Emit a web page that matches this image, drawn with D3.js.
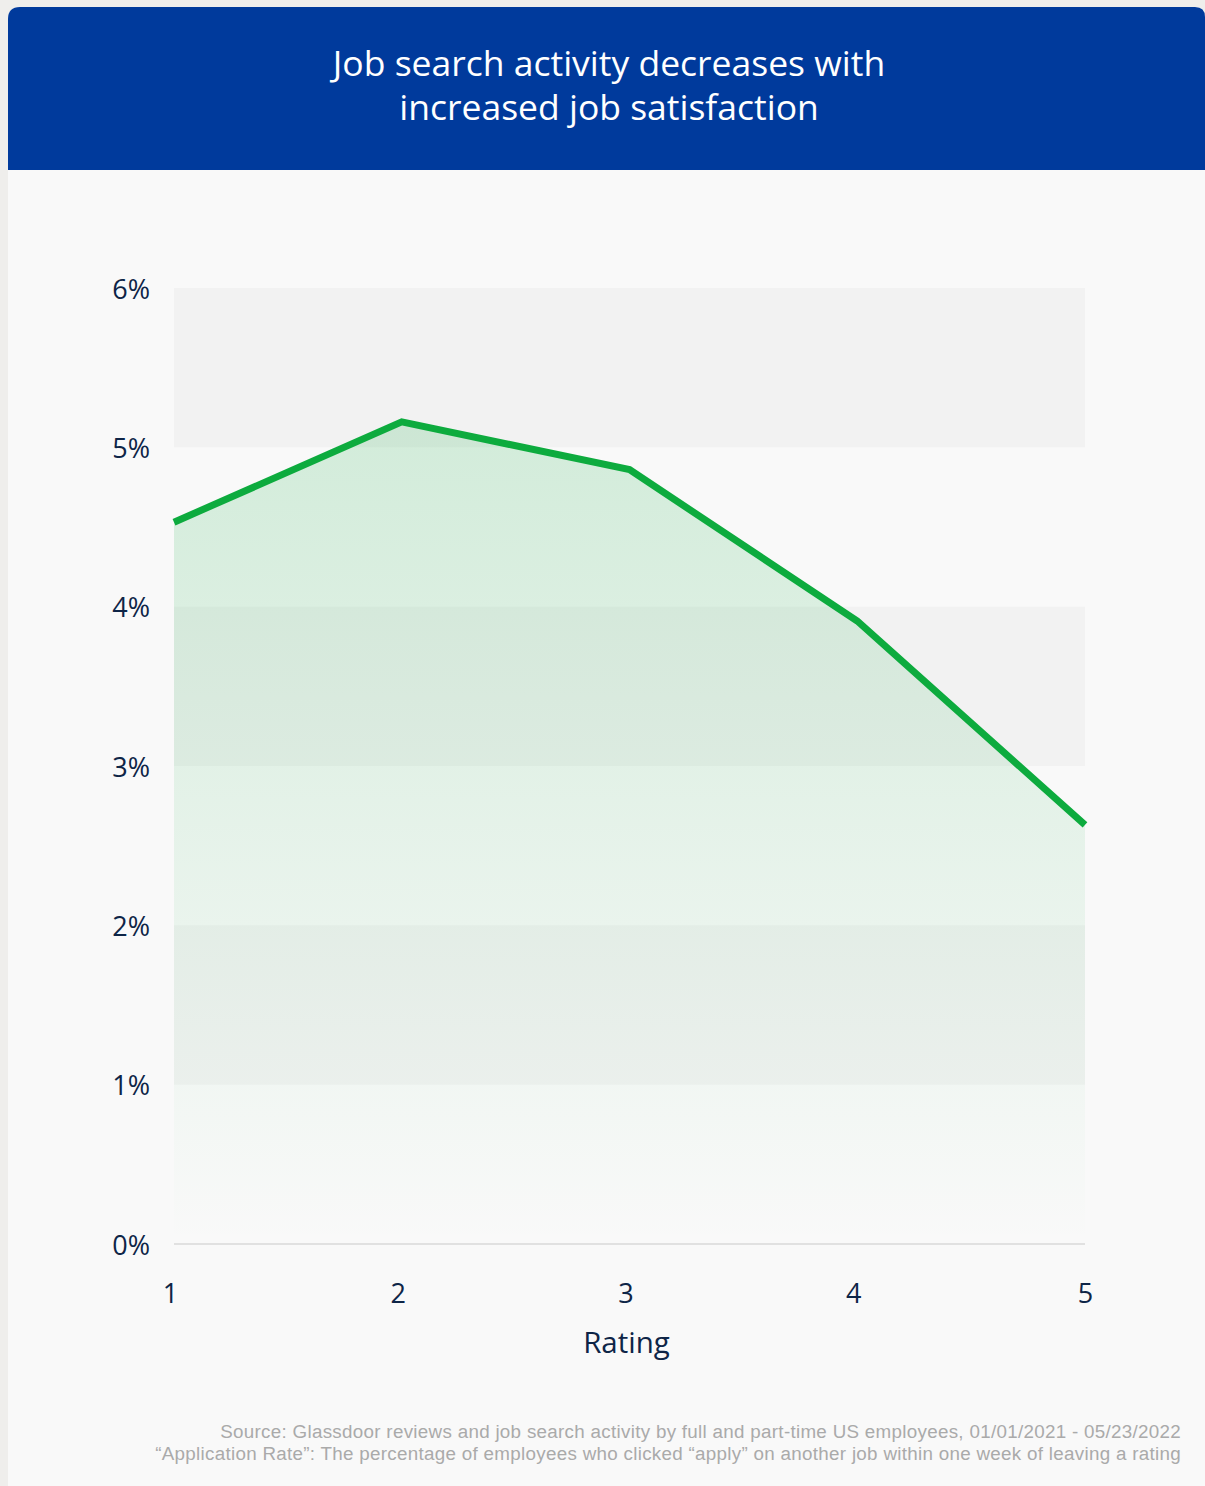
<!DOCTYPE html>
<html>
<head>
<meta charset="utf-8">
<script src="https://cdn.jsdelivr.net/npm/d3@7"></script>
<style>
  body { margin: 0; background: #efeeec; }
  #chart { font-family: "Open Sans", Lato, sans-serif; }
</style>
</head>
<body>
<div id="chart"></div>
<script>
const ratings = [1, 2, 3, 4, 5];
const applyRate = [4.53, 5.16, 4.86, 3.91, 2.63];
const yTicks = [0, 1, 2, 3, 4, 5, 6];
const titleLines = ["Job search activity decreases with", "increased job satisfaction"];
const notes = [
  "Source: Glassdoor reviews and job search activity by full and part-time US employees, 01/01/2021 - 05/23/2022",
  "\u201cApplication Rate\u201d: The percentage of employees who clicked \u201capply\u201d on another job within one week of leaving a rating"
];

const W = 1205, H = 1486;
const svg = d3.select("#chart").append("svg")
  .attr("width", W).attr("height", H);

// card + blue header
svg.append("path")
  .attr("d", "M8,19 Q8,7 20,7 L1195,7 Q1205,7 1205,17 L1205,1486 L8,1486 Z")
  .attr("fill", "#f9f9f9");
svg.append("path")
  .attr("d", "M8,19 Q8,7 20,7 L1195,7 Q1205,7 1205,17 L1205,170 L8,170 Z")
  .attr("fill", "#003a9c");

svg.append("g").selectAll("text")
  .data(titleLines).enter().append("text")
  .attr("x", 609).attr("y", (d, i) => 76 + i * 44)
  .attr("text-anchor", "middle")
  .attr("fill", "#fff")
  .attr("font-size", 35.5)
  .text(d => d);

const x = d3.scaleLinear().domain([1, 5]).range([174, 1085]);
const y = d3.scaleLinear().domain([0, 6]).range([1244, 288]);

// alternating bands
svg.append("g").selectAll("rect")
  .data(yTicks.slice(0, -1).filter(d => d % 2 == 1)).enter().append("rect")
  .attr("x", x(1)).attr("width", x(5) - x(1))
  .attr("y", d => y(d + 1)).attr("height", d => y(d) - y(d + 1))
  .attr("fill", "#f2f2f2");

const defs = svg.append("defs");
const grad = defs.append("linearGradient").attr("id", "areaGrad")
  .attr("gradientUnits", "userSpaceOnUse")
  .attr("x1", 0).attr("x2", 0).attr("y1", y(5.2)).attr("y2", y(0));
grad.append("stop").attr("offset", 0).attr("stop-color", "#12ab40").attr("stop-opacity", 0.17);
grad.append("stop").attr("offset", 1).attr("stop-color", "#12ab40").attr("stop-opacity", 0.0);

const pts = ratings.map((r, i) => [r, applyRate[i]]);

svg.append("path").datum(pts)
  .attr("fill", "url(#areaGrad)")
  .attr("d", d3.area().x(d => x(d[0])).y0(y(0)).y1(d => y(d[1])));

// baseline
svg.append("line")
  .attr("x1", x(1)).attr("x2", x(5))
  .attr("y1", y(0)).attr("y2", y(0))
  .attr("stroke", "#d8d8d8").attr("stroke-width", 1.5);

svg.append("path").datum(pts)
  .attr("fill", "none")
  .attr("stroke", "#0dab3e")
  .attr("stroke-width", 7)
  .attr("d", d3.line().x(d => x(d[0])).y(d => y(d[1])));

// y axis
const yAxis = svg.append("g")
  .attr("transform", "translate(150,0)")
  .call(d3.axisLeft(y).tickValues(yTicks).tickFormat(d => d + "%").tickSize(0).tickPadding(0));
yAxis.select(".domain").remove();
yAxis.selectAll("text")
  .attr("font-family", "'Open Sans', sans-serif")
  .attr("font-size", 27).attr("fill", "#0e2547").attr("dy", "0.38em");

// x axis
const xAxis = svg.append("g")
  .attr("transform", "translate(0,1303)")
  .call(d3.axisBottom(x).tickValues(ratings).tickFormat(d3.format("d")).tickSize(0).tickPadding(0));
xAxis.select(".domain").remove();
xAxis.selectAll("text")
  .attr("font-family", "'Open Sans', sans-serif")
  .attr("font-size", 27).attr("fill", "#0e2547").attr("dy", 0)
  .attr("x", d => d == 5 ? 0 : -4);

svg.append("text")
  .attr("x", x(3) - 3).attr("y", 1353)
  .attr("text-anchor", "middle")
  .attr("font-size", 29.5).attr("fill", "#0e2547")
  .text("Rating");

// footnotes
svg.append("g").selectAll("text")
  .data(notes).enter().append("text")
  .attr("x", 1181).attr("y", (d, i) => 1438 + i * 21.5)
  .attr("text-anchor", "end")
  .attr("font-family", "'Liberation Sans', Arial, sans-serif")
  .attr("font-size", 18.8).attr("letter-spacing", 0.3)
  .attr("fill", "#aaaaaa")
  .text(d => d);
</script>
</body>
</html>
